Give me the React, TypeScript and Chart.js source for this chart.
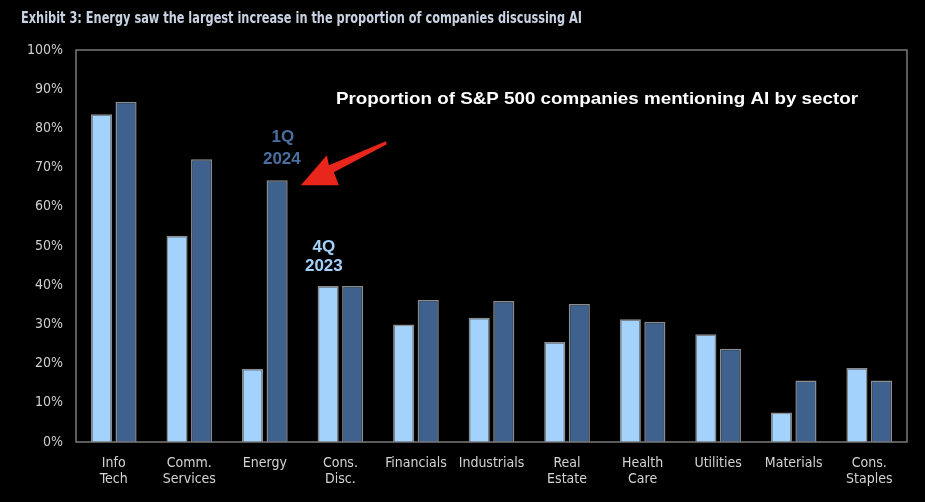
import React, { useEffect, useRef } from "react";
import { Chart, registerables } from "chart.js";

Chart.register(...registerables);

const title = "Exhibit 3: Energy saw the largest increase in the proportion of companies discussing AI";
const subtitle = "Proportion of S&P 500 companies mentioning AI by sector";
const categories: string[][] = [
  ["Info", "Tech"],
  ["Comm.", "Services"],
  ["Energy"],
  ["Cons.", "Disc."],
  ["Financials"],
  ["Industrials"],
  ["Real", "Estate"],
  ["Health", "Care"],
  ["Utilities"],
  ["Materials"],
  ["Cons.", "Staples"],
];
const q4_2023 = [83.6, 52.6, 18.7, 39.8, 30.0, 31.7, 25.5, 31.3, 27.5, 7.5, 18.9];
const q1_2024 = [86.8, 72.1, 66.8, 39.8, 36.2, 36.0, 35.2, 30.7, 23.8, 15.7, 15.7];
const seriesNames = ["4Q 2023", "1Q 2024"];
const yTicks = [0, 10, 20, 30, 40, 50, 60, 70, 80, 90, 100];

const LIGHT = "#a3d3fd";
const DARK = "#3e618e";
const NARROW = '"Liberation Sans Narrow", "Arial Narrow", "DejaVu Sans Condensed", sans-serif';
const SANS = '"Liberation Sans", Arial, sans-serif';

const decorations = {
  id: "decorations",
  afterDatasetsDraw(chart: any) {
    const { ctx, chartArea, scales } = chart;
    const xs = scales.x;
    const ys = scales.y;
    ctx.save();
    // plot box
    ctx.strokeStyle = "#7a7a7a";
    ctx.lineWidth = 1.5;
    ctx.strokeRect(chartArea.left, chartArea.top, chartArea.right - chartArea.left, chartArea.bottom - chartArea.top);

    // title
    ctx.fillStyle = "#c9d2e2";
    ctx.font = "bold 15px " + NARROW;
    ctx.textBaseline = "middle";
    ctx.textAlign = "left";
    const tw = ctx.measureText(title).width;
    ctx.save();
    ctx.translate(21, 19);
    ctx.scale(561 / tw, 1);
    ctx.fillText(title, 0, 0);
    ctx.restore();

    // subtitle
    ctx.fillStyle = "#ffffff";
    ctx.font = "bold 17px " + SANS;
    const sw = ctx.measureText(subtitle).width;
    ctx.save();
    ctx.translate(336, 99);
    ctx.scale(522 / sw, 1);
    ctx.fillText(subtitle, 0, 0);
    ctx.restore();

    // series annotations
    const e = xs.getPixelForValue(2);
    ctx.textAlign = "center";
    ctx.font = "bold 17px " + SANS;
    ctx.fillStyle = "#4a6f9f";
    const [q4a, q4b] = seriesNames[0].split(" ");
    const [q1a, q1b] = seriesNames[1].split(" ");
    ctx.fillText(q1a, e + 18, ys.getPixelForValue(77.6));
    ctx.fillText(q1b, e + 17, ys.getPixelForValue(72.2));
    ctx.fillStyle = LIGHT;
    ctx.fillText(q4a, e + 59, ys.getPixelForValue(49.7));
    ctx.fillText(q4b, e + 59, ys.getPixelForValue(44.7));

    // red arrow
    const tipX = e + 36;
    const tipY = ys.getPixelForValue(65.5);
    ctx.fillStyle = "#e8261c";
    ctx.beginPath();
    ctx.moveTo(tipX, tipY);
    ctx.lineTo(tipX + 26, tipY - 30);
    ctx.lineTo(tipX + 28, tipY - 20);
    ctx.lineTo(tipX + 85, tipY - 44);
    ctx.lineTo(tipX + 86, tipY - 41);
    ctx.lineTo(tipX + 33, tipY - 13);
    ctx.lineTo(tipX + 38, tipY);
    ctx.closePath();
    ctx.fill();
    ctx.restore();
  },
};

export default function App() {
  const ref = useRef<HTMLCanvasElement>(null);
  useEffect(() => {
    document.body.style.margin = "0";
    document.body.style.background = "#000";
    const chart = new Chart(ref.current!, {
      type: "bar",
      data: {
        labels: categories,
        datasets: [
          {
            label: seriesNames[0],
            data: q4_2023,
            backgroundColor: LIGHT,
            borderColor: "#8c8c8c",
            borderWidth: 1.5,
          },
          {
            label: seriesNames[1],
            data: q1_2024,
            backgroundColor: DARK,
            borderColor: "#8c8c8c",
            borderWidth: 1.5,
          },
        ],
      },
      options: {
        responsive: false,
        animation: false,
        layout: { padding: { top: 50, right: 18, left: 0, bottom: 0 } },
        datasets: { bar: { categoryPercentage: 0.65, barPercentage: 0.86 } },
        plugins: { legend: { display: false }, tooltip: { enabled: false }, title: { display: false } },
        scales: {
          x: {
            grid: { display: false },
            border: { display: false },
            ticks: {
              color: "#d4d4d4",
              font: { family: NARROW, size: 14, lineHeight: 1.15 },
              padding: 5,
              maxRotation: 0,
              autoSkip: false,
            },
            afterFit: (s: any) => {
              s.height = 60;
            },
          },
          y: {
            min: 0,
            max: 100,
            grid: { display: false },
            border: { display: false },
            afterBuildTicks: (s: any) => {
              s.ticks = yTicks.map((v) => ({ value: v }));
            },
            ticks: {
              color: "#cfcfcf",
              font: { family: NARROW, size: 14 },
              padding: 5,
              callback: (v: any) => v + "%",
            },
            afterFit: (s: any) => {
              s.width = 76;
            },
          },
        },
      },
      plugins: [decorations],
    });
    return () => chart.destroy();
  }, []);
  return (
    <div style={{ width: 925, height: 502, background: "#000" }}>
      <canvas ref={ref} width={925} height={502} />
    </div>
  );
}
